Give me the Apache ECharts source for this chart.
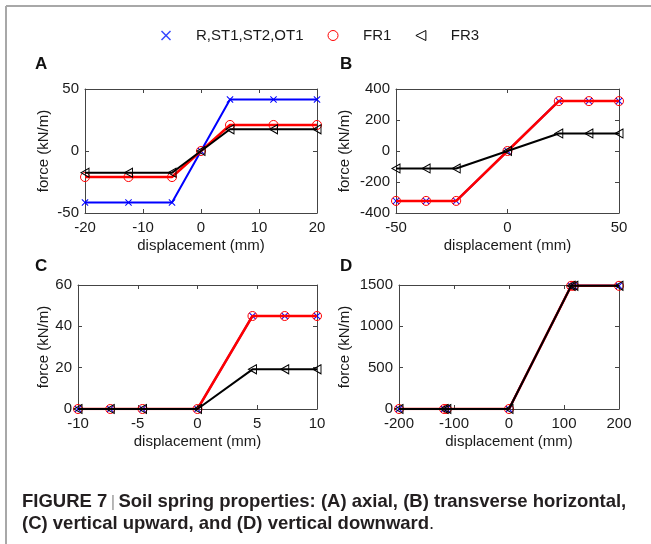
<!DOCTYPE html>
<html>
<head>
<meta charset="utf-8">
<script src="https://cdn.jsdelivr.net/npm/echarts@6/dist/echarts.min.js"></script>
<style>
  html, body { margin: 0; padding: 0; background: #fff; }
  #chart { width: 651px; height: 544px; }
</style>
</head>
<body>
<div id="chart"></div>
<script>
// legend / series names
const names = ["R,ST1,ST2,OT1", "FR1", "FR3"];

// (A) axial
const xA = [-20, -12.5, -5, 0, 5, 12.5, 20];
const blueA = [-41.5, -41.5, -41.5, 0, 41.5, 41.5, 41.5];
const redA = [-21, -21, -21, 0, 21, 21, 21];
const blackA = [-17.5, -17.5, -17.5, 0, 17.5, 17.5, 17.5];

// (B) transverse horizontal
const xB = [-50, -36.5, -23, 0, 23, 36.5, 50];
const blueB = [-322, -322, -322, 0, 322, 322, 322];
const redB = [-322, -322, -322, 0, 322, 322, 322];
const blackB = [-113, -113, -113, 0, 113, 113, 113];

// (C) vertical upward
const xC = [-10, -7.3, -4.6, 0, 4.6, 7.3, 10];
const blueC = [0, 0, 0, 0, 45, 45, 45];
const redC = [0, 0, 0, 0, 45, 45, 45];
const blackC = [0, 0, 0, 0, 19.2, 19.2, 19.2];

// (D) vertical downward
const xD = [-200, -118, -113, 0, 113, 118, 200];
const blueD = [0, 0, 0, 0, 1490, 1490, 1490];
const redD = [0, 0, 0, 0, 1490, 1490, 1490];
const blackD = [0, 0, 0, 0, 1490, 1490, 1490];

// axis ranges: [xmin, xmax, xstep, ymin, ymax, ystep]
const rangesA = [-20, 20, 10, -50, 50, 50];
const rangesB = [-50, 50, 50, -400, 400, 200];
const rangesC = [-10, 10, 5, 0, 60, 20];
const rangesD = [-200, 200, 100, 0, 1500, 500];

const FONT = "Liberation Sans, Arial, sans-serif";
const AXIS_COLOR = "#444";
// filled thin "x" outline, so it takes the fill colour everywhere (legend too)
const CROSS = "path://M0,1 L1,0 L5,4 L9,0 L10,1 L6,5 L10,9 L9,10 L5,6 L1,10 L0,9 L4,5 Z";
const TRI_LEFT = "path://M10,0 L0,5 L10,10 Z";

const panels = [
  { letter: "A", x: xA, ys: [blueA, redA, blackA], r: rangesA,
    grid: { left: 85, top: 89, width: 232, height: 124 }, yGap: 34, lx: 35, ly: 56 },
  { letter: "B", x: xB, ys: [blueB, redB, blackB], r: rangesB,
    grid: { left: 396, top: 89, width: 223, height: 124 }, yGap: 44, lx: 340, ly: 56 },
  { letter: "C", x: xC, ys: [blueC, redC, blackC], r: rangesC,
    grid: { left: 78, top: 285, width: 239, height: 124 }, yGap: 27, lx: 35, ly: 258 },
  { letter: "D", x: xD, ys: [blueD, redD, blackD], r: rangesD,
    grid: { left: 399, top: 285, width: 220, height: 124 }, yGap: 47, lx: 340, ly: 258 }
];

const seriesStyle = [
  { symbol: CROSS, symbolSize: 7, color: "#0000ff", fill: "#0000ff", bw: 0, lw: 2 },
  { symbol: "circle", symbolSize: 9, color: "#ff0000", fill: "transparent", bw: 1, lw: 2.5 },
  { symbol: TRI_LEFT, symbolSize: [8, 9], color: "#000000", fill: "transparent", bw: 1, lw: 2 }
];

const grids = [], xAxes = [], yAxes = [], series = [], graphics = [];

function axisBase(min, max, step) {
  return {
    min: min, max: max, interval: step,
    axisLine: { show: true, onZero: false, lineStyle: { color: AXIS_COLOR, width: 1 } },
    axisTick: { show: true, inside: true, length: 4, lineStyle: { color: AXIS_COLOR } },
    splitLine: { show: false },
    axisLabel: { show: true, color: "#1a1a1a", fontFamily: FONT, fontSize: 15,
                 formatter: v => String(v) }
  };
}

panels.forEach((p, i) => {
  grids.push(p.grid);
  const [x0, x1, xs, y0, y1, ys] = p.r;
  // bottom + mirrored top x axis
  const bottom = Object.assign(axisBase(x0, x1, xs), {
    type: "value", gridIndex: i, position: "bottom",
    name: "displacement (mm)", nameLocation: "middle", nameGap: 25,
    nameTextStyle: { color: "#1a1a1a", fontFamily: FONT, fontSize: 15 }
  });
  bottom.axisLabel.margin = 7;
  xAxes.push(bottom);
  const top = Object.assign(axisBase(x0, x1, xs), { type: "value", gridIndex: i, position: "top" });
  top.axisLabel = { show: false };
  xAxes.push(top);
  // left + mirrored right y axis
  const left = Object.assign(axisBase(y0, y1, ys), {
    type: "value", gridIndex: i, position: "left",
    name: "force (kN/m)", nameLocation: "middle", nameGap: p.yGap,
    nameTextStyle: { color: "#1a1a1a", fontFamily: FONT, fontSize: 15 }
  });
  left.axisLabel.margin = 6;
  yAxes.push(left);
  const right = Object.assign(axisBase(y0, y1, ys), { type: "value", gridIndex: i, position: "right" });
  right.axisLabel = { show: false };
  yAxes.push(right);

  p.ys.forEach((vals, k) => {
    const st = seriesStyle[k];
    series.push({
      type: "line", name: names[k],
      xAxisIndex: 2 * i, yAxisIndex: 2 * i,
      data: p.x.map((xv, j) => [xv, vals[j]]),
      symbol: st.symbol, symbolSize: st.symbolSize, symbolKeepAspect: true,
      showSymbol: true,
      lineStyle: { color: st.color, width: st.lw },
      itemStyle: { color: st.fill, borderColor: st.color, borderWidth: st.bw },
      emphasis: { disabled: true },
      z: 2 + k
    });
  });

  graphics.push({
    type: "text", left: p.lx, top: p.ly,
    style: { text: p.letter, font: "bold 17px " + FONT, fill: "#111" }
  });
});

// figure frame (top and left rules)
graphics.push({ type: "line", shape: { x1: 6, y1: 6, x2: 651, y2: 6 }, style: { stroke: "#a8a8a8", lineWidth: 2 } });
graphics.push({ type: "line", shape: { x1: 6, y1: 6, x2: 6, y2: 544 }, style: { stroke: "#a8a8a8", lineWidth: 2 } });

// caption
graphics.push({
  type: "text", left: 22, top: 491,
  style: {
    text: "{b|FIGURE 7} {s||} {b|Soil spring properties: (A) axial, (B) transverse horizontal,}\n{b|(C) vertical upward, and (D) vertical downward}{n|.}",
    lineHeight: 22,
    rich: {
      b: { font: "bold 18.5px " + FONT, fill: "#231f20", lineHeight: 22 },
      s: { font: "17px " + FONT, fill: "#999", lineHeight: 22 },
      n: { font: "18.5px " + FONT, fill: "#231f20", lineHeight: 22 }
    }
  }
});

const chart = echarts.init(document.getElementById("chart"), null, { renderer: "canvas" });
chart.setOption({
  animation: false,
  backgroundColor: "#fff",
  legend: {
    left: 156, top: 23,
    itemWidth: 10, itemHeight: 10, itemGap: 24,
    textStyle: { color: "#1a1a1a", fontFamily: FONT, fontSize: 15, padding: [0, 0, 0, 20] },
    selectedMode: false,
    data: [
      { name: names[0], icon: CROSS, itemStyle: { color: "#3344ff", borderWidth: 0 } },
      { name: names[1], icon: "circle", itemStyle: { color: "transparent", borderColor: "#ff0000", borderWidth: 1 } },
      { name: names[2], icon: TRI_LEFT, itemStyle: { color: "transparent", borderColor: "#000000", borderWidth: 1 } }
    ]
  },
  grid: grids,
  xAxis: xAxes,
  yAxis: yAxes,
  series: series,
  graphic: graphics
});
</script>
</body>
</html>
